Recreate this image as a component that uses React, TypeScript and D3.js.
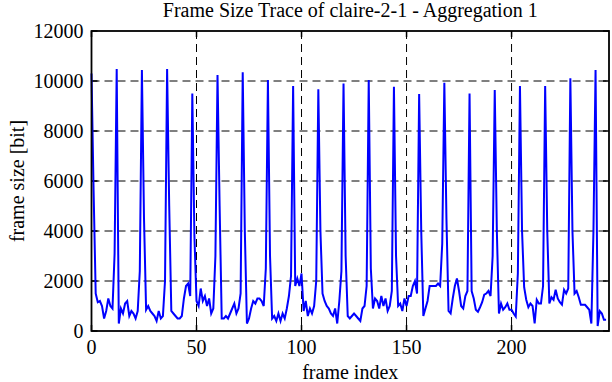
import React from "react";
import * as d3 from "d3";

const title = "Frame Size Trace of claire-2-1 - Aggregation 1";
const xLabel = "frame index";
const yLabel = "frame size [bit]";
const xTicks = [0, 50, 100, 150, 200];
const yTicks = [0, 2000, 4000, 6000, 8000, 10000, 12000];
const xDomain = [0, 246.4];
const yDomain = [0, 12000];

// frame sizes [bit], frame index = array position
const frameSizes = [
  10300, 5600, 1500, 1150, 1200, 1000, 500, 800, 1300, 1000, 900, 3100,
  10480, 300, 900, 700, 1100, 1200, 600, 800, 700, 500, 800, 2400,
  10440, 4500, 850, 1000, 800, 700, 600, 400, 800, 500, 600, 2000,
  10480, 5000, 800, 700, 600, 500, 500, 600, 1300, 1800, 1900, 1400,
  9500, 3800, 1200, 1000, 1700, 1200, 1400, 1000, 1300, 700, 900, 3000,
  10240, 5000, 500, 500, 600, 500, 700, 900, 1100, 700, 900, 1500,
  10350, 4000, 300, 500, 900, 1200, 1100, 1300, 1300, 1200, 1000, 2500,
  10040, 3000, 500, 600, 400, 700, 400, 700, 500, 900, 1400, 2200,
  9800, 1800, 2100, 1800, 2300, 800, 1200, 600, 900, 700, 1000, 2000,
  9670, 4000, 1500, 1200, 1000, 900, 700, 600, 900, 300, 1200, 2400,
  9900, 3000, 600, 500, 600, 700, 600, 500, 400, 900, 1000, 1800,
  10040, 2500, 900, 1300, 1200, 900, 1400, 1000, 1300, 800, 1000, 1600,
  9770, 3000, 1000, 1100, 800, 1300, 1000, 1400, 1400, 1800, 2000, 1500,
  9480, 4000, 600, 900, 1200, 1800, 1800, 1800, 1800, 1900, 1800, 3500,
  9930, 4500, 800, 700, 1300, 1800, 2100, 1600, 1000, 900, 1400, 1600,
  9500, 1600, 1300, 850, 770, 950, 1150, 1450, 1500, 1600, 1400, 3000,
  9640, 4000, 700, 1100, 850, 950, 1100, 850, 850, 700, 580, 2300,
  9800, 4000, 1750, 1250, 950, 1100, 1000, 300, 1250, 1100, 1100, 1800,
  9800, 4000, 1100, 1350, 1250, 1650, 1300, 1150, 1050, 1650, 1500, 1700,
  10110, 4000, 1500, 1600, 1350, 1050, 1050, 1050, 950, 850, 300, 4000,
  10440, 200, 800, 700, 450, 450,
];

const W = 612;
const H = 382;
const left = 91.5;
const right = 609;
const top = 31;
const bottom = 331;
const font = "'Liberation Serif', 'DejaVu Serif', serif";

export default function App() {
  const x = d3.scaleLinear().domain(xDomain).range([left, right]);
  const y = d3.scaleLinear().domain(yDomain).range([bottom, top]);
  const line = d3
    .line<number>()
    .x((_, i) => x(i))
    .y((d) => y(d));
  const tickLen = 6;

  return (
    <svg
      width={W}
      height={H}
      style={{ position: "absolute", left: 0, top: 0, background: "#fff" }}
      fontFamily={font}
    >
      <rect x={0} y={0} width={W} height={H} fill="#fff" />
      {/* grid */}
      {yTicks
        .filter((t) => t > yDomain[0] && t < yDomain[1])
        .map((t) => (
          <line
            key={"gy" + t}
            x1={left}
            x2={right}
            y1={y(t)}
            y2={y(t)}
            stroke="#000"
            strokeWidth={1}
            strokeDasharray="8,5"
          />
        ))}
      {xTicks
        .filter((t) => t > xDomain[0])
        .map((t) => (
          <line
            key={"gx" + t}
            x1={x(t)}
            x2={x(t)}
            y1={top}
            y2={bottom}
            stroke="#000"
            strokeWidth={1}
            strokeDasharray="8,5"
          />
        ))}
      {/* ticks */}
      {yTicks.map((t) => (
        <g key={"ty" + t}>
          <line x1={left} x2={left + tickLen} y1={y(t)} y2={y(t)} stroke="#000" strokeWidth={1.5} />
          <line x1={right} x2={right - tickLen} y1={y(t)} y2={y(t)} stroke="#000" strokeWidth={1.5} />
          <text
            x={left - 8}
            y={y(t)}
            textAnchor="end"
            dominantBaseline="central"
            fontSize={20}
          >
            {t}
          </text>
        </g>
      ))}
      {xTicks.map((t) => (
        <g key={"tx" + t}>
          <line x1={x(t)} x2={x(t)} y1={bottom} y2={bottom - tickLen} stroke="#000" strokeWidth={1.5} />
          <line x1={x(t)} x2={x(t)} y1={top} y2={top + tickLen} stroke="#000" strokeWidth={1.5} />
          <text x={x(t)} y={354} textAnchor="middle" fontSize={20}>
            {t}
          </text>
        </g>
      ))}
      {/* data */}
      <path
        d={line(frameSizes) || ""}
        fill="none"
        stroke="#0000ff"
        strokeWidth={2}
        strokeLinejoin="miter"
      />
      {/* border */}
      <rect
        x={left}
        y={top}
        width={right - left}
        height={bottom - top}
        fill="none"
        stroke="#000"
        strokeWidth={1.8}
      />
      {/* labels */}
      <text x={(left + right) / 2} y={17} textAnchor="middle" fontSize={20}>
        {title}
      </text>
      <text x={(left + right) / 2} y={379} textAnchor="middle" fontSize={20}>
        {xLabel}
      </text>
      <text
        transform={`translate(24, ${(top + bottom) / 2}) rotate(-90)`}
        textAnchor="middle"
        fontSize={20}
      >
        {yLabel}
      </text>
    </svg>
  );
}
